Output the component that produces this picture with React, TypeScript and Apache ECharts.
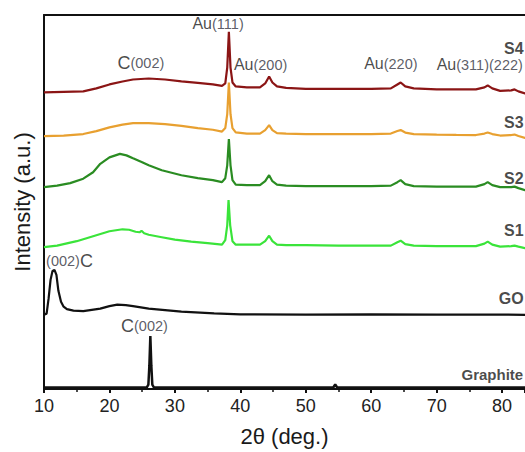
import React, { useEffect, useRef } from "react";
import * as echarts from "echarts";

// 2θ (deg.) vs relative intensity (a.u., above each pattern's own baseline)
const s4Data: [number, number][] = [
  [10, 0], [13, 0.5], [16, 1], [18, 4], [20, 8], [22, 11], [23.6, 13], [26, 14], [28.5, 13], [31, 11],
  [33.5, 9.5], [35.8, 8], [37.2, 6.5], [37.7, 9], [38.0, 25], [38.25, 61], [38.5, 25], [38.8, 10], [39.3, 6],
  [41, 5], [43, 5], [43.8, 9], [44.4, 16], [44.9, 10], [45.6, 6], [47, 4.5], [50, 3.5], [55, 3.5], [60, 3.5],
  [63, 4], [64, 8], [64.5, 10], [65.2, 6], [66.5, 4], [70, 3], [73, 3], [76, 3], [77.3, 5], [77.8, 7],
  [78.5, 4], [79.7, 1.5], [81.4, 2], [81.9, 3], [82.5, 1], [83.5, -1], [85, -1.5],
];
const s3Data: [number, number][] = [
  [10, 0], [13, 0.5], [16, 2], [18, 5], [20, 8.7], [22, 11.5], [23.6, 13], [26, 13], [28.5, 12], [31, 10.3],
  [33.5, 8], [35.8, 6.3], [37.2, 4.5], [37.7, 8], [38.0, 22], [38.25, 54], [38.5, 22], [38.8, 8], [39.3, 3.7],
  [41, 2.5], [43, 2.5], [43.8, 6], [44.4, 11], [44.9, 6], [45.6, 3], [47, 2.5], [50, 2], [55, 2], [60, 2],
  [63, 2.5], [64, 5], [64.5, 6], [65.2, 3.5], [66.5, 2], [70, 1.5], [73, 1.2], [76, 1], [77.3, 2.5], [77.8, 3.5],
  [78.5, 2], [79.7, 0.5], [81.4, 1], [81.9, 1.5], [82.5, 0], [83.5, -2], [85, -2.5],
];
const s2Data: [number, number][] = [
  [10, 0], [12, 1.5], [14, 4], [16, 8.5], [17.5, 15], [18.6, 23.5], [20, 30], [21.6, 33.5], [22.6, 32], [23.6, 29],
  [25, 25], [26, 22], [28, 17], [31, 12], [33.5, 9], [35.8, 7], [37.2, 5], [37.7, 9], [38.0, 22], [38.25, 48.5],
  [38.5, 22], [38.8, 7], [39.3, 2.5], [41, 2], [43, 2], [43.8, 6], [44.4, 12], [44.9, 6], [45.6, 2.5], [47, 1.5],
  [50, 1], [55, 1], [60, 1], [63, 1.5], [64, 5], [64.5, 7], [65.2, 3], [66.5, 1], [70, 0.5], [73, 0.5], [76, 0.5],
  [77.3, 3], [77.8, 5], [78.5, 2], [79.7, 0], [81.4, 0], [81.9, 0.5], [82.5, -1], [83.5, -3], [85, -3.5],
];
const s1Data: [number, number][] = [
  [10, 0], [12, 1.5], [15, 6], [17.5, 11], [20, 16], [22, 18], [23, 17.5], [24, 15.5], [24.6, 15], [24.9, 16.5],
  [25.3, 14], [26, 12.5], [28, 10], [30, 7.5], [32.5, 5.5], [35, 4], [37.2, 2.5], [37.7, 7], [38.0, 22], [38.2, 47.5],
  [38.45, 22], [38.8, 6], [39.3, 2.5], [41, 2.5], [43, 2.5], [43.8, 6], [44.4, 11.5], [44.9, 6], [45.6, 2.5], [47, 2],
  [50, 2], [55, 1.5], [60, 1.5], [63, 1.5], [64, 5], [64.5, 6.5], [65.2, 3], [66.5, 1.5], [70, 1], [73, 1], [76, 1],
  [77.3, 3.5], [77.8, 5.5], [78.5, 2.5], [79.7, 0.5], [81.4, 1], [81.9, 1.5], [82.5, 0.5], [83.5, -1], [85, -1.5],
];
const goData: [number, number][] = [
  [10, 0], [10.4, 1], [10.7, 16], [11.0, 35], [11.3, 44], [11.6, 45], [11.9, 40], [12.2, 24], [12.6, 13], [13.0, 8],
  [13.5, 5.5], [14.5, 4], [16, 3.5], [18.6, 6], [20, 8.5], [21.2, 10], [22.5, 9.5], [23.6, 8.5], [26, 6], [28.5, 4.5],
  [31, 3], [36, 1.3], [40, 0.3], [50, 0], [60, 0.3], [70, 0], [80, 0], [85, -0.3],
];
const graphiteData: [number, number][] = [
  [10, 0], [20, 0], [25.7, 0], [25.95, 3], [26.1, 22], [26.25, 52], [26.4, 22], [26.55, 3], [26.8, 0], [40, 0],
  [54.2, 0], [54.5, 3], [54.8, 0], [70, 0], [85, 0],
];

// vertical stacking offsets of each pattern (a.u.)
const seriesNames = ["S4", "S3", "S2", "S1", "GO", "Graphite"];
const seriesOffsets = [299, 255, 203.5, 143, 75, 1.5];
const seriesValues = [s4Data, s3Data, s2Data, s1Data, goData, graphiteData];
const seriesColors = ["#8B1515", "#E8A030", "#2A8C22", "#3AE43A", "#111111", "#111111"];

const xTicks = [10, 20, 30, 40, 50, 60, 70, 80];

// annotation texts (rich-text) anchored in data coordinates
const annotations: { text: string; x: number; y: number; align: string }[] = [
  { text: "{au|Au}{p|(111)}", x: 36.6, y: 368, align: "center" },
  { text: "{c|C}{p|(002)}", x: 24.8, y: 329, align: "center" },
  { text: "{au|Au}{p|(200)}", x: 43.1, y: 327, align: "center" },
  { text: "{au|Au}{p|(220)}", x: 63.0, y: 328, align: "center" },
  { text: "{au|Au}{p|(311)(222)}", x: 70.0, y: 327, align: "left" },
  { text: "{s|S4}", x: 80.3, y: 343, align: "left" },
  { text: "{s|S3}", x: 80.3, y: 269, align: "left" },
  { text: "{s|S2}", x: 80.3, y: 212, align: "left" },
  { text: "{s|S1}", x: 80.3, y: 160, align: "left" },
  { text: "{s|GO}", x: 79.5, y: 91, align: "left" },
  { text: "{g|Graphite}", x: 73.8, y: 15, align: "left" },
  { text: "{p|(002)}{c|C}", x: 13.9, y: 129, align: "center" },
  { text: "{c|C}{p|(002)}", x: 25.35, y: 64, align: "center" },
];

const FONT = "'Liberation Sans', Arial, sans-serif";

export default function App() {
  const ref = useRef<HTMLDivElement>(null);
  useEffect(() => {
    document.body.style.margin = "0";
    if (!ref.current) return;
    const chart = echarts.init(ref.current, undefined, { renderer: "svg" });
    const lineSeries = seriesValues.map((vals, i) => ({
      name: seriesNames[i],
      type: "line",
      data: vals.map(([x, y]) => [x, y + seriesOffsets[i]]),
      showSymbol: false,
      symbol: "none",
      smooth: false,
      clip: false,
      lineStyle: { color: seriesColors[i], width: i === 5 ? 2.5 : 2.2 },
      z: 3,
    }));
    const labelSeries = annotations.map((a) => ({
      type: "scatter",
      data: [[a.x, a.y]],
      symbolSize: 0,
      clip: false,
      silent: true,
      z: 5,
      label: {
        show: true,
        position: "inside",
        align: a.align,
        verticalAlign: "middle",
        formatter: a.text,
        fontFamily: FONT,
        rich: {
          au: { fontSize: 16, color: "#1a1a1a", fontFamily: FONT },
          c: { fontSize: 18, color: "#1a1a1a", fontFamily: FONT },
          p: { fontSize: 14.5, color: "#333340", fontFamily: FONT },
          s: { fontSize: 16, fontWeight: "bold", color: "#1a1a1a", fontFamily: FONT },
          g: { fontSize: 15, fontWeight: "bold", color: "#1a1a1a", fontFamily: FONT },
        },
      },
    }));
    chart.setOption({
      animation: false,
      backgroundColor: "#ffffff",
      grid: { left: 44, right: 0, top: 15, bottom: 60, containLabel: false },
      xAxis: [
        {
          type: "value",
          min: 10,
          max: 83.5,
          interval: 10,
          position: "bottom",
          name: "2θ (deg.)",
          nameLocation: "middle",
          nameGap: 36,
          nameTextStyle: { fontSize: 22, color: "#1a1a1a", fontFamily: FONT },
          axisLine: { show: true, onZero: false, lineStyle: { color: "#111", width: 2 } },
          axisTick: { show: true, length: 4, inside: false, lineStyle: { color: "#111", width: 2 } },
          minorTick: { show: true, splitNumber: 2, length: 3, lineStyle: { color: "#111", width: 1.5 } },
          axisLabel: {
            fontSize: 18,
            color: "#222",
            margin: 8,
            fontFamily: FONT,
            showMaxLabel: false,
            formatter: (v: number) => (xTicks.includes(v) ? String(v) : ""),
          },
          splitLine: { show: false },
        },
        {
          type: "value",
          min: 10,
          max: 83.5,
          position: "top",
          axisLine: { show: true, onZero: false, lineStyle: { color: "#111", width: 2 } },
          axisTick: { show: false },
          axisLabel: { show: false },
          splitLine: { show: false },
        },
      ],
      yAxis: {
        type: "value",
        min: 0,
        max: 377,
        name: "Intensity (a.u.)",
        nameLocation: "middle",
        nameRotate: 90,
        nameGap: 11,
        nameTextStyle: { fontSize: 22, color: "#1a1a1a", fontFamily: FONT },
        axisLine: { show: true, onZero: false, lineStyle: { color: "#111", width: 2 } },
        axisTick: { show: false },
        axisLabel: { show: false },
        splitLine: { show: false },
      },
      series: [...lineSeries, ...labelSeries],
    });
    return () => chart.dispose();
  }, []);
  return <div ref={ref} style={{ width: 525, height: 452 }} />;
}
